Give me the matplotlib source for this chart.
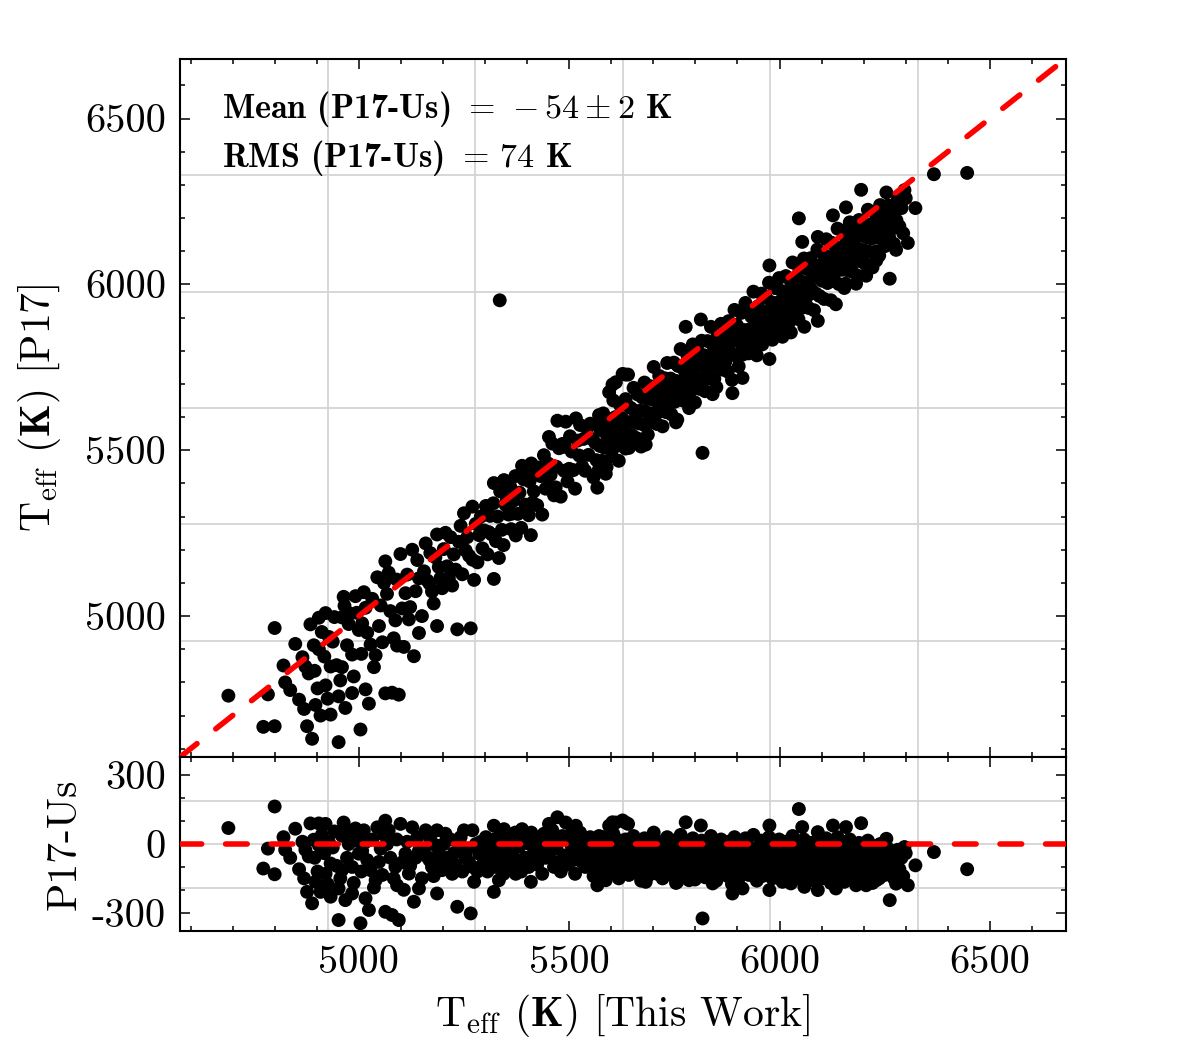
# P17 vs this work Teff comparison, with residual panel

import numpy as np
import matplotlib.pyplot as plt
from matplotlib.ticker import MultipleLocator, FuncFormatter

plt.rcParams['font.family'] = 'serif'
plt.rcParams['font.serif'] = ['cmr10']
plt.rcParams['mathtext.fontset'] = 'cm'
plt.rcParams['axes.unicode_minus'] = False

# Teff from this work (K) and P17 - Us difference (K)
teff_us = [
    4690, 4800, 4773, 4800, 4784, 4821, 4825, 4849, 4837, 4873, 4881, 4877, 4889, 4885, 4905, 4921,
    4893, 4905, 4897, 4909, 4921, 4933, 4933, 4929, 4952, 4952, 4960, 4964, 4966, 4960, 4968, 4984,
    4976, 4984, 4992, 5000, 5004, 5012, 5016, 5016, 5024, 5028, 5040, 5044, 5048, 5063, 5071, 5067,
    5063, 5079, 5095, 5091, 5087, 5099, 5111, 5119, 5127, 5131, 5143, 5143, 5159, 5163, 5174, 5186,
    5186, 5190, 5198, 5206, 5222, 5234, 5238, 5250, 5254, 5266, 5270, 5270, 5274, 5286, 5309, 5321,
    5321, 5333, 5345, 5349, 5373, 5365, 5388, 5400, 5409, 5413, 5420, 5440, 5452, 5448, 5464, 5472,
    5484, 5492, 5500, 5516, 5520, 5531, 5543, 5567, 5571, 5587, 5595, 5611, 5618, 5634, 5634, 5335,
    # low-Teff fill
    4858, 4866, 4870, 4895, 4902, 4912, 4918, 4926, 4938, 4942, 4947, 4956, 4972, 4978, 4988, 4995,
    5006, 5008, 5020, 5032, 5036, 5052, 5056, 5060, 5075, 5083, 5090, 5103, 5107, 5115, 5122, 5135,
    5139, 5150, 5155, 5168, 5170, 5178, 5182, 5194, 5202, 5210, 5214, 5218, 5226, 5230, 5242, 5246,
    5258, 5262, 5278, 5282,
    # 5300-5550
    5290, 5294, 5298, 5302, 5306, 5312, 5316, 5320, 5326, 5330, 5336, 5340, 5344, 5352, 5356, 5360,
    5362, 5368, 5372, 5378, 5382, 5386, 5392, 5396, 5404, 5406, 5410, 5416, 5424, 5428, 5432, 5436,
    5444, 5450, 5456, 5460, 5468, 5470, 5476, 5480, 5488, 5490, 5496, 5502, 5506, 5510, 5514, 5524,
    5526, 5534, 5538, 5546, 5550, 5554, 5558,
    # dense 5560-6300
    5562, 5565, 5567, 5570, 5573, 5575, 5578, 5581, 5583, 5586, 5589, 5591, 5594, 5597, 5599, 5602,
    5605, 5607, 5610, 5613, 5615, 5618, 5621, 5623, 5626, 5629, 5631, 5634, 5637, 5639, 5642, 5645,
    5647, 5650, 5653, 5655, 5658, 5661, 5663, 5666, 5669, 5671, 5674, 5677, 5679, 5682, 5685, 5687,
    5690, 5693, 5695, 5698, 5701, 5703, 5706, 5709, 5711, 5714, 5717, 5719, 5722, 5725, 5727, 5730,
    5733, 5735, 5738, 5741, 5743, 5746, 5749, 5751, 5754, 5757, 5759, 5762, 5765, 5767, 5770, 5773,
    5775, 5778, 5781, 5783, 5786, 5789, 5791, 5794, 5797, 5799, 5802, 5805, 5807, 5810, 5813, 5815,
    5818, 5821, 5823, 5826, 5829, 5831, 5834, 5837, 5839, 5842, 5845, 5847, 5850, 5853, 5855, 5858,
    5861, 5863, 5866, 5869, 5871, 5874, 5877, 5879, 5882, 5885, 5887, 5890, 5893, 5895, 5898, 5901,
    5903, 5906, 5909, 5911, 5914, 5917, 5919, 5922, 5925, 5927, 5930, 5933, 5935, 5938, 5941, 5943,
    5946, 5949, 5951, 5954, 5957, 5959, 5962, 5965, 5967, 5970, 5973, 5975, 5978, 5981, 5983, 5986,
    5989, 5991, 5994, 5997, 5999, 6002, 6005, 6007, 6010, 6013, 6015, 6018, 6021, 6023, 6026, 6029,
    6031, 6034, 6037, 6039, 6042, 6045, 6047, 6050, 6053, 6055, 6058, 6061, 6063, 6066, 6069, 6071,
    6074, 6077, 6079, 6082, 6085, 6087, 6090, 6093, 6095, 6098, 6101, 6103, 6106, 6109, 6111, 6114,
    6117, 6119, 6122, 6125, 6127, 6130, 6133, 6135, 6138, 6141, 6143, 6146, 6149, 6151, 6154, 6157,
    6159, 6162, 6165, 6167, 6170, 6173, 6175, 6178, 6181, 6183, 6186, 6189, 6191, 6194, 6197, 6199,
    6202, 6205, 6207, 6210, 6213, 6215, 6218, 6221, 6223, 6226, 6229, 6231, 6234, 6237, 6239, 6242,
    6245, 6247, 6250, 6253, 6255, 6258, 6261, 6263, 6266, 6269, 6272, 6275, 6278, 6281, 6285, 6290,
    6294, 6300,
    # edges and outliers
    5603, 5627, 5640, 5777, 5813, 5976, 6046, 6054, 6091, 6127, 6158, 6194, 6254, 6297, 6367, 6323,
    6446, 6305, 6262, 6277, 6269, 5817, 5888, 5976, 6091, 6134, 5841, 5754, 5682, 5785, 5912, 6059,
    6182, 6206, 6230, 6154, 6027,
]
diff = [
    70, 164, -107, -132, -20, 30, -25, 67, -60, -25, -54, -209, -259, 90, 90, 88,
    19, -5, -165, -209, -130, -230, -85, 8, -332, -194, -114, 94, 65, 36, -245, -216,
    0, -100, 68, -42, -346, 60, 9, -237, -288, -114, -158, 73, -78, 102, 60, 0,
    -296, -310, -332, -180, -100, 88, -42, -129, 73, -252, -194, -29, 60, -56, -100, 60,
    -216, -42, -114, 45, -130, -274, -14, 60, -56, -303, 60, -100, -165, -42, -56, 80,
    -209, -158, 65, -14, -130, -56, 65, 38, -165, -71, 9, 45, 88, -29, -100, 117,
    35, 94, -56, 80, 9, -80, 22, -180, 35, -158, 80, 94, -29, 94, -129, 617,
    -110, 10, -150, -60, -120, 40, -40, -175, -15, 55, -95, -150, -60, 30, -170, 15,
    -120, -30, -70, 20, -190, -20, -135, 40, -60, -150, 20, -80, -200, 10, -95, -60,
    30, -150, -20, -70, 20, -140, -5, -80, 0, -60, -100, 20, -40, -90, 30, -120,
    -20, -80, 0, -120,
    10, -90, -40, 30, -120, -10, -70, 20, -100, -30, 40, -80, -130, 0, -50, 30,
    -100, -20, 50, -70, -10, -120, 20, -60, -100, 0, 50, -40, -90, 20, -10, -130,
    -60, 10, -30, 60, -80, -20, 30, -120, -50, 20, -90, 40, -10, -70, -130, -40,
    50, 0, -100, -60, 30, -20, -140,
    -40, -95, 10, -130, -60, -15, -110, 30, -75, -25, -140, -50, 0, -90, -35, -120,
    45, -65, -10, -100, -45, -150, 15, -80, -30, -115, -55, 20, -95, -5, -135, -60,
    -20, -105, 35, -70, -40, -125, 5, -85, -50, -160, -15, -100, 25, -65, -30, -140,
    -80, 0, -110, -45, 50, -90, -20, -130, -60, 10, -100, -35, -150, -70, -10, -115,
    30, -55, -95, -25, -135, -75, 15, -105, -45, -165, -5, -85, 40, -60, -120, -30,
    -100, -50, 5, -140, -75, -20, -110, 25, -65, -155, -40, -90, -10, -125, -55, 15,
    -100, -35, -145, -70, 0, -115, -50, 35, -85, -25, -130, -65, -160, -5, -95, -45,
    20, -120, -75, -15, -105, -55, -140, 10, -85, -35, -175, -60, 30, -110, -20, -70,
    -150, -40, 5, -95, -125, -55, 25, -80, -10, -135, -65, -30, -115, 40, -90, -50,
    -160, -15, -100, -70, 15, -140, -45, -85, -5, -120, -60, 30, -105, -35, -150, -75,
    0, -95, -50, -130, 20, -80, -25, -165, -60, -110, 10, -40, -140, -90, -15, -70,
    35, -120, -55, -100, -30, -150, 0, -85, -45, -125, 20, -65, -105, -20, -140, -75,
    5, -95, -50, -160, -30, -115, 15, -70, -130, -40, -90, -10, -150, -60, 25, -110,
    -35, -80, -170, 0, -55, -120, -20, -95, 30, -140, -65, -45, -105, 10, -80, -155,
    -30, -120, -60, 20, -90, -135, -15, -70, -110, -40, -160, 5, -85, -125, -50, -20,
    -100, -145, -65, 15, -115, -35, -80, -170, -55, -10, -130, -90, -45, -150, 0, -75,
    -110, -30, -135, -60, -95, -20, -120, -70, -40, -100, -150, -55, -85, -25, -110, -60,
    -140, -40,
    95, 103, 88, 95, 81, 81, 153, 74, 52, 81, 74, 91, 23, -13, -35, -93,
    -110, -180, -245, -173, -86, -325, -216, -201, -201, -194, -172, -170, -165, -158, -194, -187,
    -180, -180, -158, -165, -172,
]

mean_txt = '-54'
mean_err = '2'
rms_txt = '74'

lims = (4575, 6680)
res_lims = (-380, 380)

teff_us = np.array(teff_us)
diff = np.array(diff)
teff_p17 = teff_us + diff

fig = plt.figure(figsize=(12, 10.5), dpi=100)
ax = fig.add_axes([0.15, 0.279, 0.738, 0.665])
axr = fig.add_axes([0.15, 0.1133, 0.738, 0.1657])

grid_kw = dict(color='#d4d4d4', lw=1.3, zorder=0)
line_kw = dict(color='red', lw=4.0, dashes=(3.9, 4.3), dash_capstyle='round', zorder=3)
dot_kw = dict(s=100, c='black', edgecolors='none', zorder=2)

# main panel
for g in np.linspace(lims[0], lims[1], 7)[1:-1]:
    ax.axvline(g, **grid_kw)
    ax.axhline(g, **grid_kw)
ax.scatter(teff_us, teff_p17, **dot_kw)
ax.plot(lims, lims, **line_kw)
ax.set_xlim(lims)
ax.set_ylim(lims)
ax.set_ylabel(r'$\mathrm{T_{eff}}$ $\mathbf{(K)}$ [P17]', fontsize=30, labelpad=16)

ax.text(0.047, 0.957, 'Mean (P17-Us) $=\\,' + mean_txt + '\\pm' + mean_err + '$ K',
        transform=ax.transAxes, family='cmb10', fontsize=24.5, va='top')
ax.text(0.047, 0.886, 'RMS (P17-Us) $=\\,' + rms_txt + '$ K',
        transform=ax.transAxes, family='cmb10', fontsize=24.5, va='top')

# residual panel
for g in np.linspace(lims[0], lims[1], 7)[1:-1]:
    axr.axvline(g, **grid_kw)
for g in np.linspace(res_lims[0], res_lims[1], 5)[1:-1]:
    axr.axhline(g, **grid_kw)
axr.scatter(teff_us, diff, **dot_kw)
axr.axhline(0, **line_kw)
axr.set_xlim(lims)
axr.set_ylim(res_lims)
axr.set_ylabel('P17-Us', fontsize=30, labelpad=6)
axr.set_xlabel(r'$\mathrm{T_{eff}}$ $\mathbf{(K)}$ [This Work]', fontsize=30, labelpad=8)

fmt = FuncFormatter(lambda v, p: '%d' % v)
for a in (ax, axr):
    a.xaxis.set_major_locator(MultipleLocator(500))
    a.xaxis.set_minor_locator(MultipleLocator(100))
    a.tick_params(which='both', direction='in', top=True, right=True, width=1.1)
    a.tick_params(which='major', length=7.5, labelsize=29, pad=10)
    a.tick_params(which='minor', length=3.8)
    a.xaxis.set_major_formatter(fmt)
    a.yaxis.set_major_formatter(fmt)
    for s in a.spines.values():
        s.set_linewidth(1.5)

ax.yaxis.set_major_locator(MultipleLocator(500))
ax.yaxis.set_minor_locator(MultipleLocator(100))
ax.tick_params(labelbottom=False)
axr.yaxis.set_major_locator(MultipleLocator(300))
axr.yaxis.set_minor_locator(MultipleLocator(100))

fig.savefig('out.png', dpi=100)
